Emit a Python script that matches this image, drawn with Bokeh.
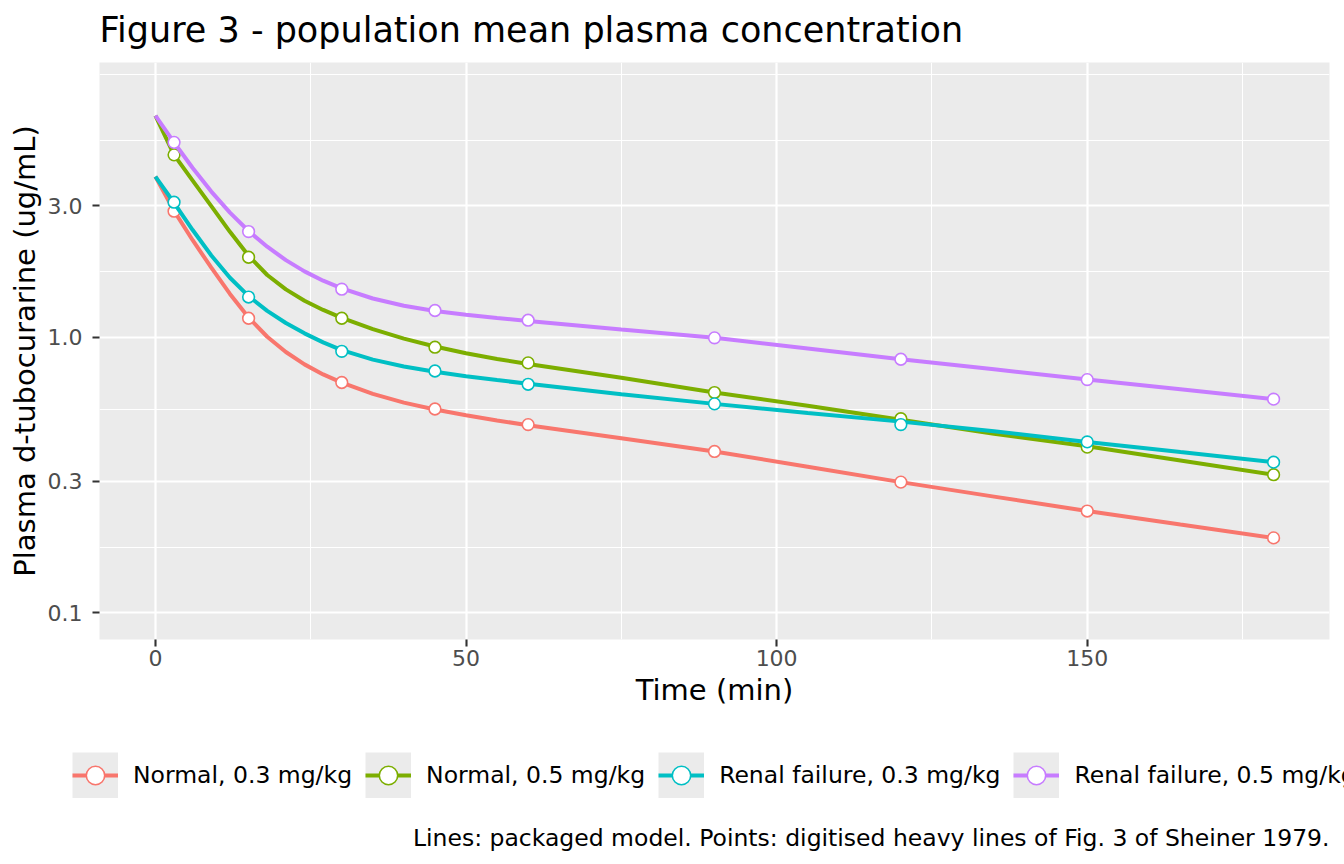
import numpy as np
from bokeh.plotting import figure
from bokeh.models import (FixedTicker, PrintfTickFormatter, Range1d, Legend,
                          LegendItem, Label, ColumnDataSource)
from bokeh.embed import file_html
from bokeh.resources import INLINE

# ---------------- data ----------------
series = ["Normal, 0.3 mg/kg", "Normal, 0.5 mg/kg",
          "Renal failure, 0.3 mg/kg", "Renal failure, 0.5 mg/kg"]
colors = ["#F8766D", "#7CAE00", "#00BFC4", "#C77CFF"]

# model lines
time_line = [0, 3, 6, 9, 12, 15, 18, 21, 24, 27, 30, 35, 40, 45, 50, 55, 60,
             75, 90, 105, 120, 135, 150, 165, 180]
line_normal_03 = [3.828, 2.874, 2.249, 1.788, 1.436, 1.179, 1.004, 0.884, 0.797,
                  0.733, 0.684, 0.623, 0.579, 0.547, 0.521, 0.499, 0.479, 0.430,
                  0.385, 0.339, 0.298, 0.264, 0.234, 0.209, 0.187]
line_normal_05 = [6.368, 4.587, 3.703, 2.989, 2.413, 1.975, 1.682, 1.492, 1.357,
                  1.256, 1.176, 1.070, 0.988, 0.925, 0.875, 0.834, 0.799, 0.713,
                  0.630, 0.564, 0.502, 0.446, 0.402, 0.357, 0.317]
line_renal_03 = [3.828, 3.076, 2.449, 1.980, 1.644, 1.409, 1.247, 1.126, 1.033,
                 0.958, 0.898, 0.829, 0.783, 0.749, 0.722, 0.699, 0.678, 0.621,
                 0.573, 0.531, 0.494, 0.456, 0.417, 0.383, 0.352]
line_renal_05 = [6.368, 5.091, 4.112, 3.377, 2.832, 2.429, 2.130, 1.905, 1.734,
                 1.604, 1.503, 1.382, 1.301, 1.246, 1.207, 1.175, 1.146, 1.067,
                 0.995, 0.910, 0.832, 0.765, 0.702, 0.647, 0.596]

# digitised observations
time_obs = [3, 15, 30, 45, 60, 90, 120, 150, 180]
obs_normal_03 = [2.866, 1.172, 0.685, 0.549, 0.482, 0.385, 0.298, 0.234, 0.187]
obs_normal_05 = [4.59, 1.951, 1.172, 0.920, 0.807, 0.630, 0.506, 0.399, 0.317]
obs_renal_03 = [3.09, 1.399, 0.889, 0.754, 0.675, 0.573, 0.482, 0.417, 0.352]
obs_renal_05 = [5.095, 2.418, 1.494, 1.250, 1.153, 0.995, 0.832, 0.702, 0.596]

x_ticks = [0, 50, 100, 150]
x_minor = [25, 75, 125, 175]
y_ticks = [0.1, 0.3, 1.0, 3.0]
y_minor = [0.1732, 0.5477, 1.7321, 5.196, 9.0]

title_text = "Figure 3 - population mean plasma concentration"
caption_text = "Lines: packaged model. Points: digitised heavy lines of Fig. 3 of Sheiner 1979."

lines = [line_normal_03, line_normal_05, line_renal_03, line_renal_05]
obs = [obs_normal_03, obs_normal_05, obs_renal_03, obs_renal_05]

FONT = "DejaVu Sans"
W = 1344
H_TOP = 62
H_MAIN = 668
H_LEG = 864 - H_TOP - H_MAIN


def strip(height):
    s = figure(width=W, height=height, output_backend="svg", toolbar_location=None,
               title=None, x_range=Range1d(0, W), y_range=Range1d(0, height),
               x_axis_location=None, y_axis_location=None,
               min_border_left=0, min_border_right=0, min_border_top=0,
               min_border_bottom=0)
    s.grid.visible = False
    s.outline_line_color = None
    s.background_fill_color = "white"
    s.border_fill_color = "white"
    return s


# ---------------- title strip ----------------
t = strip(H_TOP)
t.add_layout(Label(x=99, y=32.5, text=title_text, text_align="left",
                   text_baseline="alphabetic", text_font=FONT,
                   text_font_size="35px", text_color="black"))

# ---------------- main figure ----------------
p = figure(width=W, height=H_MAIN, output_backend="svg", toolbar_location=None,
           title=None, y_axis_type="log",
           x_range=Range1d(-9, 189), y_range=Range1d(0.0800, 9.93),
           min_border_left=99, min_border_right=15, min_border_top=0,
           min_border_bottom=H_MAIN - (639 - H_TOP))
p.background_fill_color = "#EBEBEB"
p.border_fill_color = "white"
p.outline_line_color = None

for g in (p.xgrid, p.ygrid):
    g.grid_line_color = "white"
    g.grid_line_width = 2.2
    g.minor_grid_line_color = "white"
    g.minor_grid_line_width = 1.1

p.xaxis.ticker = FixedTicker(ticks=x_ticks, minor_ticks=x_minor)
p.yaxis.ticker = FixedTicker(ticks=y_ticks, minor_ticks=y_minor)
p.yaxis.formatter = PrintfTickFormatter(format="%.1f")
p.xaxis.axis_label = "Time (min)"
p.yaxis.axis_label = "Plasma d-tubocurarine (ug/mL)"

for ax in (p.xaxis, p.yaxis):
    ax.axis_line_color = None
    ax.major_tick_line_color = "#333333"
    ax.major_tick_line_width = 2.1
    ax.major_tick_in = 0
    ax.major_tick_out = 7
    ax.minor_tick_line_color = None
    ax.major_label_text_font = FONT
    ax.major_label_text_font_size = "22px"
    ax.major_label_text_color = "#4D4D4D"
    ax.axis_label_text_font = FONT
    ax.axis_label_text_font_size = "29px"
    ax.axis_label_text_font_style = "normal"
    ax.axis_label_text_color = "black"
p.xaxis.major_label_standoff = 3
p.xaxis.axis_label_standoff = 4
p.yaxis.major_label_standoff = 10
p.yaxis.axis_label_standoff = 3

for col, ly, oy in zip(colors, lines, obs):
    src_l = ColumnDataSource(dict(t=time_line, c=ly))
    src_o = ColumnDataSource(dict(t=time_obs, c=oy))
    p.line("t", "c", source=src_l, line_color=col, line_width=4.0)
    p.scatter("t", "c", source=src_o, marker="circle", size=11.7,
              fill_color="white", line_color=col, line_width=1.6)

# ---------------- legend + caption strip ----------------
q = strip(H_LEG)

# legend-only renderers: a single NaN row so nothing shows in the strip itself
nan = np.array([np.nan])
items = []
for name, col in zip(series, colors):
    key_src = ColumnDataSource(dict(x=nan, y=nan))
    rb = q.line("x", "y", source=key_src, line_color="#EBEBEB", line_width=46)
    rl = q.line("x", "y", source=key_src, line_color=col, line_width=4.0)
    ro = q.scatter("x", "y", source=key_src, marker="circle", size=11.7,
                   fill_color="white", line_color=col, line_width=1.6)
    items.append(LegendItem(label=name, renderers=[rb, rl, ro]))

legend = Legend(items=items, orientation="horizontal", location=(72, 66),
                glyph_width=46, glyph_height=46, label_standoff=15, spacing=13,
                padding=0, margin=0, label_text_font=FONT,
                label_text_font_size="23.5px", label_text_color="black",
                background_fill_alpha=0, border_line_color=None)
q.add_layout(legend, "center")

q.add_layout(Label(x=1329, y=27, text=caption_text, text_align="right",
                   text_baseline="alphabetic", text_font=FONT,
                   text_font_size="23.5px", text_color="black"))

open("out.html", "w").write(file_html([t, p, q], INLINE))
